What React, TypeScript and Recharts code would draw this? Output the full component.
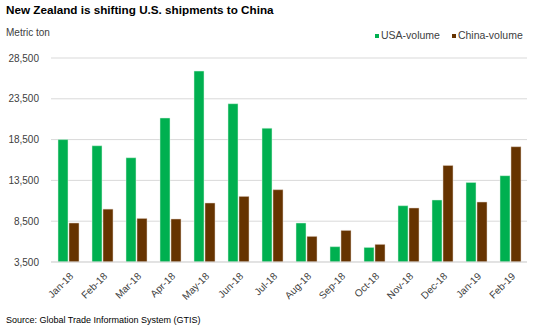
import React from "react";
import { BarChart, Bar, XAxis, YAxis, CartesianGrid } from "recharts";

const categories = ["Jan-18","Feb-18","Mar-18","Apr-18","May-18","Jun-18","Jul-18","Aug-18","Sep-18","Oct-18","Nov-18","Dec-18","Jan-19","Feb-19"];
const usaVolume = [18500, 17750, 16280, 21150, 26900, 22900, 19900, 8280, 5380, 5290, 10400, 11100, 13250, 14080];
const chinaVolume = [8280, 9980, 8840, 8770, 10730, 11540, 12360, 6640, 7370, 5660, 10120, 15340, 10850, 17630];
const yTicks = [3500, 8500, 13500, 18500, 23500, 28500];

const data = categories.map((c, i) => ({ month: c, usa: usaVolume[i], china: chinaVolume[i] }));

const FONT = "'Liberation Sans', Arial, sans-serif";

const XTick = (props: any) => {
  const { x, y, payload } = props;
  return (
    <g transform={`translate(${x + 3},${y + 4})`}>
      <text transform="rotate(-45)" textAnchor="end" x={0} y={0} dy={4} fontSize={10} fill="#404040" fontFamily={FONT}>
        {payload.value}
      </text>
    </g>
  );
};

export default function App() {
  return (
    <div style={{ position: "absolute", left: 0, top: 0, width: 537, height: 327, background: "#fff", fontFamily: FONT }}>
      <BarChart
        width={537}
        height={327}
        data={data}
        margin={{ top: 58, right: 10, bottom: 15, left: 6 }}
        barSize={10}
        barGap={1}
        style={{ position: "absolute", left: 0, top: 0 }}
      >
        <CartesianGrid vertical={false} stroke="#d9d9d9" />
        <XAxis dataKey="month" tick={<XTick />} tickLine={false} axisLine={{ stroke: "#d9d9d9" }} height={50} interval={0} />
        <YAxis
          domain={[3500, 28500]}
          ticks={yTicks}
          width={45}
          axisLine={false}
          tickLine={false}
          tick={{ fontSize: 10, fill: "#404040", fontFamily: FONT }}
          tickFormatter={(v: number) => v.toLocaleString("en-US")}
          tickMargin={6}
        />
        <Bar dataKey="usa" fill="#00B050" stroke="#d8f5e2" strokeWidth={0.5} isAnimationActive={false} />
        <Bar dataKey="china" fill="#663300" stroke="#e2d3c6" strokeWidth={0.5} isAnimationActive={false} />
      </BarChart>
      <div style={{ position: "absolute", left: 6, top: 3, fontSize: 11.7, fontWeight: "bold", color: "#000", whiteSpace: "nowrap" }}>
        New Zealand is shifting U.S. shipments to China
      </div>
      <div style={{ position: "absolute", left: 6, top: 27, fontSize: 10, color: "#404040" }}>Metric ton</div>
      <div style={{ position: "absolute", left: 375, top: 29, display: "flex", fontSize: 10.5, color: "#404040", whiteSpace: "nowrap", lineHeight: "13px" }}>
        <span style={{ display: "flex", alignItems: "center", marginRight: 12 }}>
          <span style={{ width: 4, height: 4, background: "#00B050", display: "inline-block", marginRight: 2 }} />
          USA-volume
        </span>
        <span style={{ display: "flex", alignItems: "center" }}>
          <span style={{ width: 4, height: 4, background: "#663300", display: "inline-block", marginRight: 2 }} />
          China-volume
        </span>
      </div>
      <div style={{ position: "absolute", left: 6, top: 315, fontSize: 9, color: "#000", whiteSpace: "nowrap" }}>
        Source: Global Trade Information System (GTIS)
      </div>
    </div>
  );
}
